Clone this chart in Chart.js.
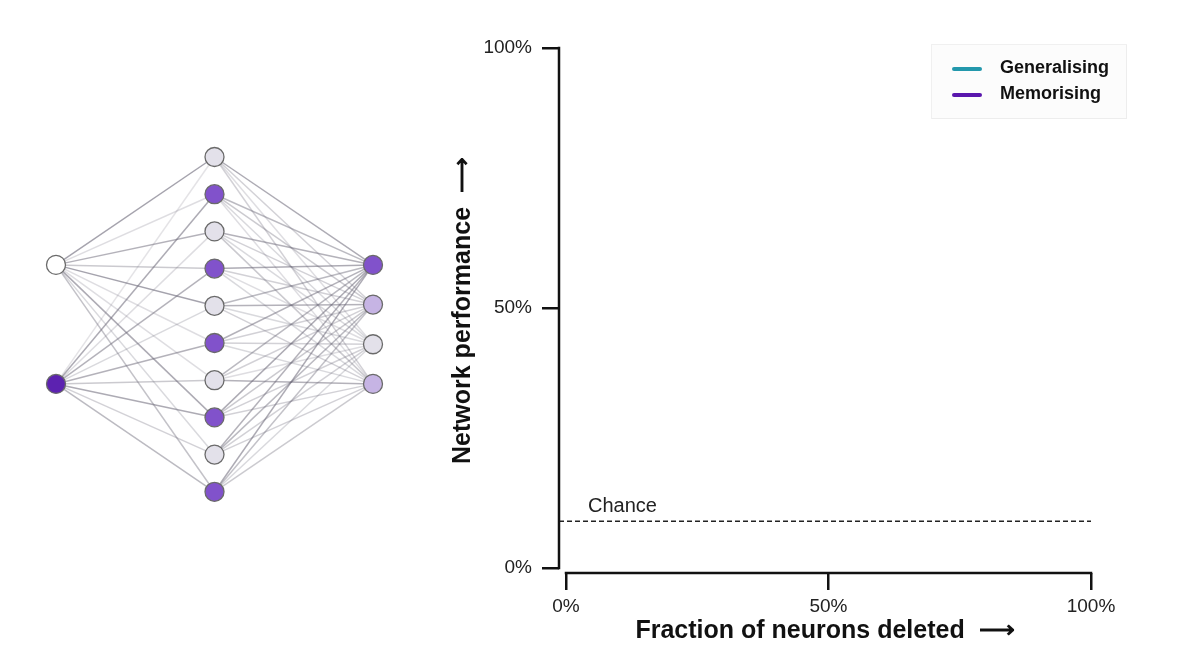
<!DOCTYPE html>
<html><head><meta charset="utf-8">
<script src="https://cdn.jsdelivr.net/npm/chart.js@4.4.1/dist/chart.umd.min.js"></script>
<style>
html,body{margin:0;padding:0;background:#fff;}
#wrap{position:relative;width:1200px;height:659px;overflow:hidden;}
canvas{position:absolute;left:0;top:0;}
</style></head><body>
<div id="wrap">
<canvas id="main" width="1200" height="659"></canvas>
<canvas id="net" width="440" height="659"></canvas>
</div>
<script>
// ---------------- data ----------------
const seriesNames = ['Generalising', 'Memorising'];
const seriesColors = ['#2398ac', '#5a17ad'];
const fractionDeleted = [];      // % of neurons deleted (no points shown in this frame)
const generalisingPerf = [];     // % performance
const memorisingPerf = [];       // % performance
const chanceLevel = 9;           // % performance at chance
const chanceLabel = 'Chance';
const xTicks = [0, 50, 100];
const yTicks = [0, 50, 100];

// network diagram: layer sizes, node states and connection strengths
const layerSizes = [2, 10, 4];
const inputState  = ['white', 'dark'];
const hiddenState = ['grey','purple','grey','purple','grey','purple','grey','purple','grey','purple'];
const outputState = ['purple','light','grey','light'];
const inputToHidden = [
  [0.60, 0.22, 0.50, 0.35, 0.60, 0.22, 0.22, 0.55, 0.25, 0.40],
  [0.18, 0.55, 0.22, 0.50, 0.25, 0.50, 0.35, 0.55, 0.30, 0.45]
];
const hiddenToOutput = [
  [0.55, 0.30, 0.22, 0.30],
  [0.45, 0.35, 0.25, 0.22],
  [0.50, 0.30, 0.25, 0.35],
  [0.55, 0.30, 0.22, 0.25],
  [0.45, 0.50, 0.25, 0.30],
  [0.50, 0.30, 0.30, 0.25],
  [0.45, 0.30, 0.22, 0.50],
  [0.55, 0.35, 0.30, 0.30],
  [0.50, 0.45, 0.30, 0.30],
  [0.55, 0.40, 0.25, 0.35]
];

// ---------------- styles / layout ----------------
const FONT = "'Liberation Sans', Arial, Helvetica, sans-serif";
const stateColors = { white: '#ffffff', dark: '#5c22b0', purple: '#8152cb', light: '#c6b4e4', grey: '#e3e1ea' };
const layerSpacing = [3.2, 1, 1.066];
const layerCenter = 4.5;
const X_MIN = -1.333, Y_MIN = -0.96;

// ---------------- main chart ----------------
function legendGlyph(color) {
  const c = document.createElement('canvas');
  c.width = 39; c.height = 18;
  const g = c.getContext('2d');
  g.strokeStyle = color; g.lineWidth = 4; g.lineCap = 'round';
  g.beginPath(); g.moveTo(2, 10); g.lineTo(28, 10); g.stroke();
  return c;
}
const glyphs = seriesColors.map(legendGlyph);

const axisLines = {
  id: 'axisLines',
  afterDraw(chart) {
    const {ctx, chartArea, scales: {x, y}} = chart;
    ctx.save();
    ctx.strokeStyle = '#111'; ctx.lineWidth = 2.5; ctx.lineCap = 'square';
    ctx.beginPath();
    ctx.moveTo(chartArea.left, y.getPixelForValue(yTicks[yTicks.length - 1]));
    ctx.lineTo(chartArea.left, y.getPixelForValue(yTicks[0]));
    ctx.moveTo(x.getPixelForValue(xTicks[0]), chartArea.bottom);
    ctx.lineTo(x.getPixelForValue(xTicks[xTicks.length - 1]), chartArea.bottom);
    ctx.stroke();
    ctx.restore();
  }
};
const chanceText = {
  id: 'chanceText',
  afterDatasetsDraw(chart) {
    const {ctx, scales: {x, y}} = chart;
    ctx.save();
    ctx.font = '20px ' + FONT; ctx.fillStyle = '#222';
    ctx.textAlign = 'left'; ctx.textBaseline = 'alphabetic';
    ctx.fillText(chanceLabel, x.getPixelForValue(4.2), y.getPixelForValue(chanceLevel) - 9);
    ctx.restore();
  }
};
const legendPlace = {
  id: 'legendPlace',
  afterLayout(chart) {
    const lg = chart.legend; if (!lg) return;
    const w = lg.width, h = lg.height;
    lg.left = chart.chartArea.right - 147; lg.right = lg.left + w;
    lg.top = chart.chartArea.top + 3; lg.bottom = lg.top + h;
  },
  beforeDraw(chart) {
    const lg = chart.legend; if (!lg) return;
    const ctx = chart.ctx;
    ctx.save();
    ctx.fillStyle = '#fcfcfc';
    ctx.strokeStyle = 'rgba(0,0,0,0.06)'; ctx.lineWidth = 1;
    ctx.fillRect(lg.left - 12, lg.top - 6, 195, 74);
    ctx.strokeRect(lg.left - 12.5, lg.top - 6.5, 195, 74);
    ctx.restore();
  }
};

const tickFont = {size: 19, family: FONT};
const titleFont = {size: 25, weight: 'bold', family: FONT};

new Chart(document.getElementById('main'), {
  type: 'scatter',
  data: {
    datasets: [
      { label: seriesNames[0], data: fractionDeleted.map((v, i) => ({x: v, y: generalisingPerf[i]})),
        showLine: true, borderColor: seriesColors[0], borderWidth: 4, pointRadius: 0 },
      { label: seriesNames[1], data: fractionDeleted.map((v, i) => ({x: v, y: memorisingPerf[i]})),
        showLine: true, borderColor: seriesColors[1], borderWidth: 4, pointRadius: 0 },
      { label: chanceLabel, data: [{x: X_MIN, y: chanceLevel}, {x: xTicks[xTicks.length - 1], y: chanceLevel}],
        showLine: true, borderColor: '#222', borderWidth: 1.5, borderDash: [5, 3], pointRadius: 0 }
    ]
  },
  options: {
    responsive: false, animation: false, events: [],
    layout: { autoPadding: false, padding: { left: 448, top: 48, right: 109, bottom: 13 } },
    scales: {
      x: {
        type: 'linear', min: X_MIN, max: 100,
        afterBuildTicks: s => { s.ticks = xTicks.map(v => ({value: v})); },
        afterFit: s => { s.height = 73; },
        border: { display: false },
        grid: { drawOnChartArea: false, tickLength: 17, lineWidth: 2.5, color: '#111' },
        ticks: { callback: v => v + '%', font: tickFont, color: '#222', padding: 5, maxRotation: 0, autoSkip: false },
        title: { display: true, text: 'Fraction of neurons deleted  \u27F6', font: titleFont, color: '#111', padding: 0 }
      },
      y: {
        type: 'linear', min: Y_MIN, max: 100,
        afterBuildTicks: s => { s.ticks = yTicks.map(v => ({value: v})); },
        afterFit: s => { s.width = 111; },
        border: { display: false },
        grid: { drawOnChartArea: false, tickLength: 17, lineWidth: 2.5, color: '#111' },
        ticks: { callback: v => v + '%', font: tickFont, color: '#222', padding: 10, autoSkip: false },
        title: { display: true, text: 'Network performance  \u27F6', font: titleFont, color: '#111', padding: 0 }
      }
    },
    plugins: {
      tooltip: { enabled: false },
      legend: {
        position: 'chartArea', align: 'start',
        labels: {
          usePointStyle: true, pointStyleWidth: 39, padding: 8,
          font: {size: 18, weight: 'bold', family: FONT}, color: '#111',
          generateLabels: () => seriesNames.map((name, i) => ({
            text: name, pointStyle: glyphs[i], fillStyle: seriesColors[i], strokeStyle: seriesColors[i],
            lineWidth: 0, hidden: false, datasetIndex: i, fontColor: '#111'
          }))
        }
      }
    }
  },
  plugins: [axisLines, chanceText, legendPlace]
});

// ---------------- network diagram ----------------
const states = [inputState, hiddenState, outputState];
function nodePos(layer, i) {
  return layerCenter + (i - (layerSizes[layer] - 1) / 2) * layerSpacing[layer];
}
const nodes = [];
states.forEach((st, l) => st.forEach((s, i) => nodes.push({x: l, y: nodePos(l, i), c: stateColors[s]})));

const edgeSets = [];
function addEdges(fromLayer, weights) {
  weights.forEach((row, i) => row.forEach((w, j) => {
    edgeSets.push({
      type: 'line', order: 1, showLine: true, pointRadius: 0, borderWidth: 1.5,
      borderColor: `rgba(105,102,118,${w})`,
      data: [{x: fromLayer, y: nodePos(fromLayer, i)}, {x: fromLayer + 1, y: nodePos(fromLayer + 1, j)}]
    });
  }));
}
addEdges(0, inputToHidden);
addEdges(1, hiddenToOutput);

// pixel placement of the diagram on its canvas (layout only)
const NET = { w: 440, h: 659, x0: 56, xStep: 158.5, y0: 157, yStep: 37.2 };

new Chart(document.getElementById('net'), {
  type: 'scatter',
  data: {
    datasets: [
      { order: 0, data: nodes.map(n => ({x: n.x, y: n.y})),
        pointRadius: 9.5, pointBackgroundColor: nodes.map(n => n.c),
        pointBorderColor: '#6a6a6a', pointBorderWidth: 1.3 },
      ...edgeSets
    ]
  },
  options: {
    responsive: false, animation: false, events: [],
    layout: { autoPadding: false, padding: 0 },
    scales: {
      x: { type: 'linear', display: false, min: -NET.x0 / NET.xStep, max: (NET.w - NET.x0) / NET.xStep },
      y: { type: 'linear', display: false, reverse: true, min: -NET.y0 / NET.yStep, max: (NET.h - NET.y0) / NET.yStep }
    },
    plugins: { legend: { display: false }, tooltip: { enabled: false } }
  }
});
</script>
</body></html>
